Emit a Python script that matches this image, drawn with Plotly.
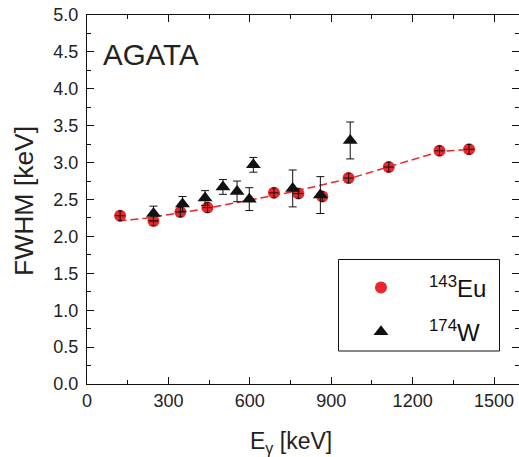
import plotly.graph_objects as go

# 143Eu data
eu_x = [122, 245, 344, 444, 689, 779, 867, 964, 1112, 1299, 1408]
eu_y = [2.28, 2.21, 2.33, 2.39, 2.59, 2.58, 2.54, 2.79, 2.94, 3.16, 3.18]
eu_xerr = [18] * len(eu_x)
eu_yerr = [0.065] * len(eu_x)

# 174W data
w_x = [245, 352, 435, 501, 553, 598, 613, 758, 860, 970]
w_y = [2.31, 2.44, 2.52, 2.67, 2.61, 2.505, 2.97, 2.65, 2.56, 3.30]
w_err = [0.10, 0.10, 0.10, 0.10, 0.14, 0.155, 0.10, 0.25, 0.25, 0.25]

# dashed fit curve
fit_x = [116, 215, 411, 731, 964, 1112, 1300, 1410]
fit_y = [2.21, 2.246, 2.36, 2.585, 2.78, 2.94, 3.15, 3.18]

x_ticks = [0, 300, 600, 900, 1200, 1500]
y_ticks = [0.0, 0.5, 1.0, 1.5, 2.0, 2.5, 3.0, 3.5, 4.0, 4.5, 5.0]

RED = "#e8262b"
FONT = "Liberation Sans"

fig = go.Figure()

fig.add_trace(go.Scatter(
    x=fit_x, y=fit_y, mode="lines",
    line=dict(color=RED, width=1.5, dash="8px,4px"),
    showlegend=False, hoverinfo="skip"))

fig.add_trace(go.Scatter(
    x=eu_x, y=eu_y, mode="markers", name="<sup>143</sup>Eu",
    legendgroup="eu",
    marker=dict(symbol="circle", size=12, color=RED, line=dict(width=0))))

fig.add_trace(go.Scatter(
    x=eu_x, y=eu_y, mode="markers", showlegend=False,
    marker=dict(size=1, color="rgba(0,0,0,0)"),
    error_x=dict(type="data", array=eu_xerr, color="#111", thickness=1, width=0),
    error_y=dict(type="data", array=eu_yerr, color="#111", thickness=1, width=2),
    hoverinfo="skip"))

fig.add_trace(go.Scatter(
    x=w_x, y=w_y, mode="markers", name="<sup>174</sup>W",
    legendgroup="w",
    marker=dict(symbol="triangle-up", size=13, color="#111", line=dict(width=0)),
    error_y=dict(type="data", array=w_err, color="#111", thickness=1, width=4)))

L, R, T, B = 87, 0, 15, 73
W, H = 519, 457
pw, ph = W - L - R, H - T - B

def px_x(p):
    return (p - L) / pw

def px_y(p):
    return (H - B - p) / ph

fig.update_layout(
    width=W, height=H,
    margin=dict(l=L, r=R, t=T, b=B),
    plot_bgcolor="white", paper_bgcolor="white",
    font=dict(family=FONT, color="#111"),
    showlegend=True,
    legend=dict(
        x=px_x(333), y=px_y(265.5), xanchor="left", yanchor="top",
        bgcolor="rgba(0,0,0,0)", borderwidth=0,
        font=dict(size=24, family=FONT, color="#111"),
        itemwidth=86, tracegroupgap=10, traceorder="grouped",
    ),
    xaxis=dict(
        range=[0, 1592], tickvals=x_ticks, ticktext=[str(v) for v in x_ticks],
        ticks="inside", ticklen=7, tickwidth=1, tickcolor="#111",
        showline=True, linecolor="#111", linewidth=1, mirror="ticks",
        showgrid=False, zeroline=False,
        tickfont=dict(size=18, family=FONT, color="#222"),
        minor=dict(dtick=150, tick0=0, ticks="inside", ticklen=4, tickcolor="#111", showgrid=False),
    ),
    yaxis=dict(
        range=[0, 5], tickvals=y_ticks, ticktext=[f"{v:.1f}" for v in y_ticks],
        ticks="inside", ticklen=7, tickwidth=1, tickcolor="#111",
        showline=True, linecolor="#111", linewidth=1, mirror="ticks",
        showgrid=False, zeroline=False,
        tickfont=dict(size=18, family=FONT, color="#222"),
        ticklabelstandoff=4,
        minor=dict(dtick=0.25, tick0=0, ticks="inside", ticklen=4, tickcolor="#111", showgrid=False),
    ),
    shapes=[dict(
        type="rect", xref="paper", yref="paper",
        x0=px_x(338.5), x1=px_x(499.5), y0=px_y(351), y1=px_y(259.5),
        line=dict(color="#111", width=1), fillcolor="rgba(0,0,0,0)", layer="above")],
    annotations=[
        dict(text="AGATA", xref="paper", yref="paper", x=px_x(101), y=px_y(54.5),
             xanchor="left", yanchor="middle", showarrow=False,
             font=dict(size=29.5, family=FONT, color="#222")),
        dict(text="E<sub>γ</sub> [keV]", xref="paper", yref="paper", x=px_x(291), y=px_y(442),
             xanchor="center", yanchor="middle", showarrow=False,
             font=dict(size=23, family=FONT, color="#222")),
        dict(text="FWHM [keV]", xref="paper", yref="paper", x=px_x(24), y=px_y(201),
             xanchor="center", yanchor="middle", showarrow=False, textangle=-90,
             font=dict(size=26.5, family=FONT, color="#222")),
    ],
)

fig.write_html("out.html", config={"displayModeBar": False},
               post_script="document.body.style.margin='0';document.body.style.overflow='hidden';")
